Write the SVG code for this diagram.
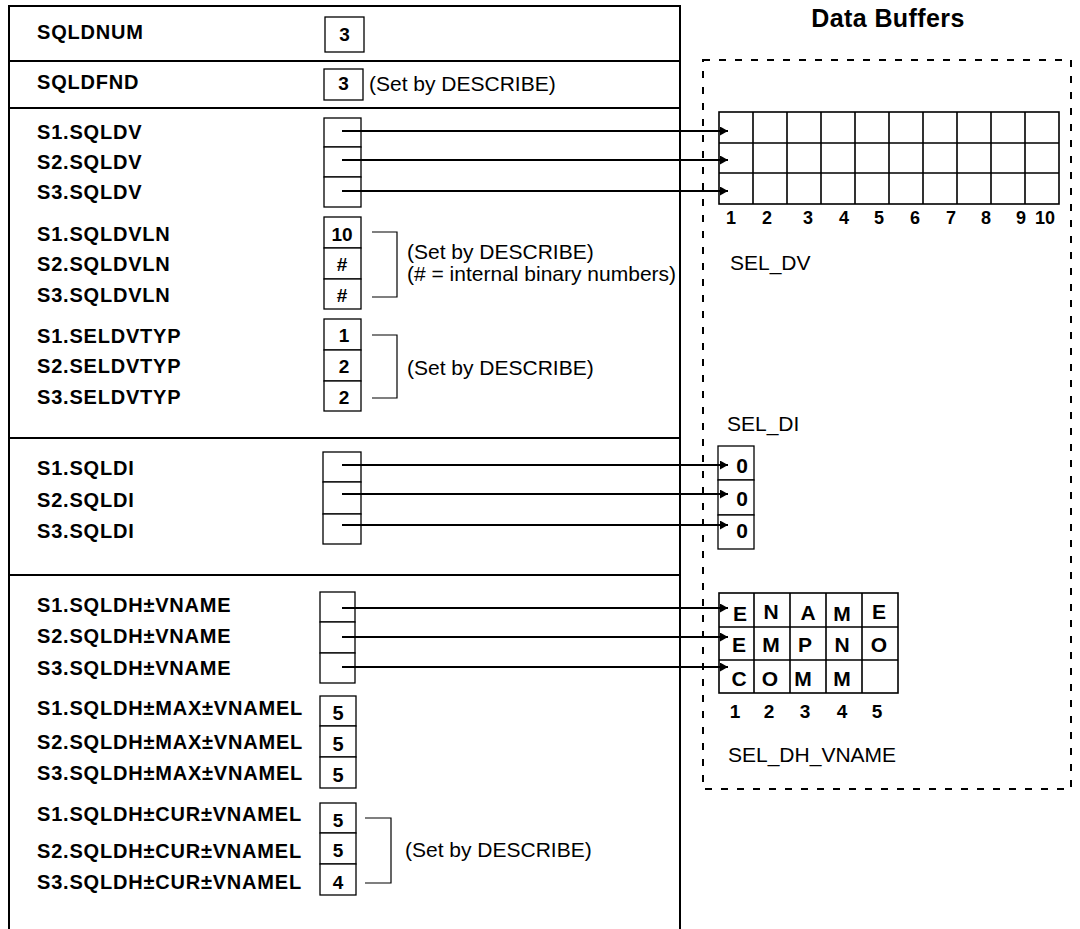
<svg xmlns="http://www.w3.org/2000/svg" width="1080" height="929" viewBox="0 0 1080 929">
<defs>
<style>
text{font-family:"Liberation Sans",Arial,sans-serif;fill:#000}
.lb{font-size:20px;font-weight:bold;letter-spacing:0.8px}
.v{font-size:19px;font-weight:bold;text-anchor:middle}
.v2{font-size:20px;font-weight:bold;text-anchor:middle}
.g{font-size:21px;font-weight:bold;text-anchor:middle}
.n{font-size:18px;font-weight:bold;text-anchor:middle}
.c{font-size:21px}
.frame{fill:none;stroke:#000;stroke-width:2}
.box{fill:#fff;stroke:#000;stroke-width:1.3}
.br{fill:none;stroke:#000;stroke-width:1.2}
.grid{fill:none;stroke:#000;stroke-width:1.6}
.arr{stroke:#000;stroke-width:2;fill:none;marker-end:url(#ah)}
</style>
<marker id="ah" markerUnits="userSpaceOnUse" markerWidth="8" markerHeight="9" viewBox="0 0 8 9" refX="8" refY="4.5" orient="auto">
<path d="M0,0 L8,4.5 L0,9 z" fill="#000"/>
</marker>
</defs>
<rect width="1080" height="929" fill="#fff"/>

<g id="descriptor-frame">
<path class="frame" d="M9,929 V6 H680 V929"/>
<line class="frame" x1="9" y1="61" x2="680" y2="61"/>
<line class="frame" x1="9" y1="108" x2="680" y2="108"/>
<line class="frame" x1="9" y1="438" x2="680" y2="438"/>
<line class="frame" x1="9" y1="575" x2="680" y2="575"/>
</g>

<g id="sqldnum">
<text class="lb" x="37" y="39">SQLDNUM</text>
<rect class="box" x="325" y="17" width="39" height="35"/>
<text class="v" x="344.5" y="41">3</text>
</g>

<g id="sqldfnd">
<text class="lb" x="37" y="89">SQLDFND</text>
<rect class="box" x="324" y="69" width="39" height="31"/>
<text class="v" x="343.5" y="90">3</text>
<text class="c" x="369" y="91">(Set by DESCRIBE)</text>
</g>

<g id="sqldv">
<text class="lb" x="37" y="139">S1.SQLDV</text>
<text class="lb" x="37" y="169">S2.SQLDV</text>
<text class="lb" x="37" y="199">S3.SQLDV</text>
<rect class="box" x="324" y="118" width="37" height="29"/>
<rect class="box" x="324" y="147" width="37" height="30"/>
<rect class="box" x="324" y="177" width="37" height="30"/>
</g>

<g id="sqldvln">
<text class="lb" x="37" y="241">S1.SQLDVLN</text>
<text class="lb" x="37" y="271">S2.SQLDVLN</text>
<text class="lb" x="37" y="302">S3.SQLDVLN</text>
<rect class="box" x="324" y="217" width="37" height="31"/>
<rect class="box" x="324" y="248" width="37" height="31"/>
<rect class="box" x="324" y="279" width="37" height="30"/>
<text class="v" x="342" y="241">10</text>
<text class="v" x="342" y="271">#</text>
<text class="v" x="342" y="302">#</text>
<path class="br" d="M372,232 H397 V297 H372"/>
<text class="c" x="407" y="259">(Set by DESCRIBE)</text>
<text class="c" x="407" y="281">(# = internal binary numbers)</text>
</g>

<g id="seldvtyp">
<text class="lb" x="37" y="343">S1.SELDVTYP</text>
<text class="lb" x="37" y="373">S2.SELDVTYP</text>
<text class="lb" x="37" y="404">S3.SELDVTYP</text>
<rect class="box" x="324" y="319" width="37" height="31"/>
<rect class="box" x="324" y="350" width="37" height="31"/>
<rect class="box" x="324" y="381" width="37" height="30"/>
<text class="v" x="344" y="342">1</text>
<text class="v" x="344" y="373">2</text>
<text class="v" x="344" y="404">2</text>
<path class="br" d="M372,335 H397 V398 H372"/>
<text class="c" x="407" y="375">(Set by DESCRIBE)</text>
</g>

<g id="sqldi">
<text class="lb" x="37" y="475">S1.SQLDI</text>
<text class="lb" x="37" y="507">S2.SQLDI</text>
<text class="lb" x="37" y="538">S3.SQLDI</text>
<rect class="box" x="323" y="452" width="38" height="30"/>
<rect class="box" x="323" y="482" width="38" height="32"/>
<rect class="box" x="323" y="514" width="38" height="30"/>
</g>

<g id="sqldh-vname">
<text class="lb" x="37" y="612">S1.SQLDH±VNAME</text>
<text class="lb" x="37" y="643">S2.SQLDH±VNAME</text>
<text class="lb" x="37" y="675">S3.SQLDH±VNAME</text>
<rect class="box" x="320" y="592" width="35" height="30"/>
<rect class="box" x="320" y="622" width="35" height="31"/>
<rect class="box" x="320" y="653" width="35" height="30"/>
</g>

<g id="sqldh-max-vnamel">
<text class="lb" x="37" y="715">S1.SQLDH±MAX±VNAMEL</text>
<text class="lb" x="37" y="749">S2.SQLDH±MAX±VNAMEL</text>
<text class="lb" x="37" y="780">S3.SQLDH±MAX±VNAMEL</text>
<rect class="box" x="320" y="696" width="36" height="30"/>
<rect class="box" x="320" y="726" width="36" height="31"/>
<rect class="box" x="320" y="757" width="36" height="31"/>
<text class="v2" x="338" y="720">5</text>
<text class="v2" x="338" y="751">5</text>
<text class="v2" x="338" y="782">5</text>
</g>

<g id="sqldh-cur-vnamel">
<text class="lb" x="37" y="821">S1.SQLDH±CUR±VNAMEL</text>
<text class="lb" x="37" y="858">S2.SQLDH±CUR±VNAMEL</text>
<text class="lb" x="37" y="889">S3.SQLDH±CUR±VNAMEL</text>
<rect class="box" x="320" y="803" width="36" height="30"/>
<rect class="box" x="320" y="833" width="36" height="31"/>
<rect class="box" x="320" y="864" width="36" height="31"/>
<text class="v" x="338" y="827">5</text>
<text class="v" x="338" y="857">5</text>
<text class="v" x="338" y="889">4</text>
<path class="br" d="M365,818 H391 V883 H365"/>
<text class="c" x="405" y="857">(Set by DESCRIBE)</text>
</g>

<g id="data-buffers">
<text x="888" y="27" style="font-size:25px;font-weight:bold;text-anchor:middle;letter-spacing:0.4px">Data Buffers</text>
<rect x="703" y="60" width="368" height="729" fill="none" stroke="#000" stroke-width="2" stroke-dasharray="7 9"/>
</g>

<g id="sel-dv">
<rect class="grid" x="719" y="112" width="340" height="92"/>
<path class="grid" d="M719,143 H1059 M719,173 H1059 M753,112 V204 M787,112 V204 M821,112 V204 M855,112 V204 M889,112 V204 M923,112 V204 M957,112 V204 M991,112 V204 M1025,112 V204"/>
<text class="n" x="731" y="224">1</text>
<text class="n" x="767" y="224">2</text>
<text class="n" x="808" y="224">3</text>
<text class="n" x="844" y="224">4</text>
<text class="n" x="879" y="224">5</text>
<text class="n" x="915" y="224">6</text>
<text class="n" x="951" y="224">7</text>
<text class="n" x="986" y="224">8</text>
<text class="n" x="1021" y="224">9</text>
<text class="n" x="1045" y="224">10</text>
<text class="c" x="730" y="270">SEL_DV</text>
</g>

<g id="sel-di">
<text class="c" x="727" y="431">SEL_DI</text>
<rect class="box" x="718" y="446" width="36" height="34"/>
<rect class="box" x="718" y="480" width="36" height="35"/>
<rect class="box" x="718" y="515" width="36" height="34"/>
<text class="g" x="742" y="473">0</text>
<text class="g" x="742" y="506">0</text>
<text class="g" x="742" y="538">0</text>
</g>

<g id="sel-dh-vname">
<rect class="grid" x="719" y="593" width="179" height="100"/>
<path class="grid" d="M719,627 H898 M719,660 H898 M754,593 V693 M790,593 V693 M826,593 V693 M862,593 V693"/>
<text class="g" x="740" y="621">E</text>
<text class="g" x="771" y="619">N</text>
<text class="g" x="808" y="620">A</text>
<text class="g" x="842" y="621">M</text>
<text class="g" x="879" y="619">E</text>
<text class="g" x="739" y="652">E</text>
<text class="g" x="771" y="652">M</text>
<text class="g" x="805" y="652">P</text>
<text class="g" x="842" y="652">N</text>
<text class="g" x="879" y="652">O</text>
<text class="g" x="739" y="686">C</text>
<text class="g" x="770" y="686">O</text>
<text class="g" x="803" y="686">M</text>
<text class="g" x="842" y="686">M</text>
<text class="v" x="735" y="718">1</text>
<text class="v" x="769" y="718">2</text>
<text class="v" x="805" y="718">3</text>
<text class="v" x="842" y="718">4</text>
<text class="v" x="877" y="718">5</text>
<text class="c" x="728" y="762">SEL_DH_VNAME</text>
</g>

<g id="connectors">
<line class="arr" x1="342" y1="131" x2="728" y2="131"/>
<line class="arr" x1="342" y1="160" x2="728" y2="160"/>
<line class="arr" x1="342" y1="191" x2="728" y2="191"/>
<line class="arr" x1="342" y1="465" x2="728" y2="465"/>
<line class="arr" x1="342" y1="494" x2="728" y2="494"/>
<line class="arr" x1="342" y1="525" x2="728" y2="525"/>
<line class="arr" x1="342" y1="608" x2="728" y2="608"/>
<line class="arr" x1="342" y1="637" x2="728" y2="637"/>
<line class="arr" x1="342" y1="667" x2="728" y2="667"/>
</g>
</svg>
